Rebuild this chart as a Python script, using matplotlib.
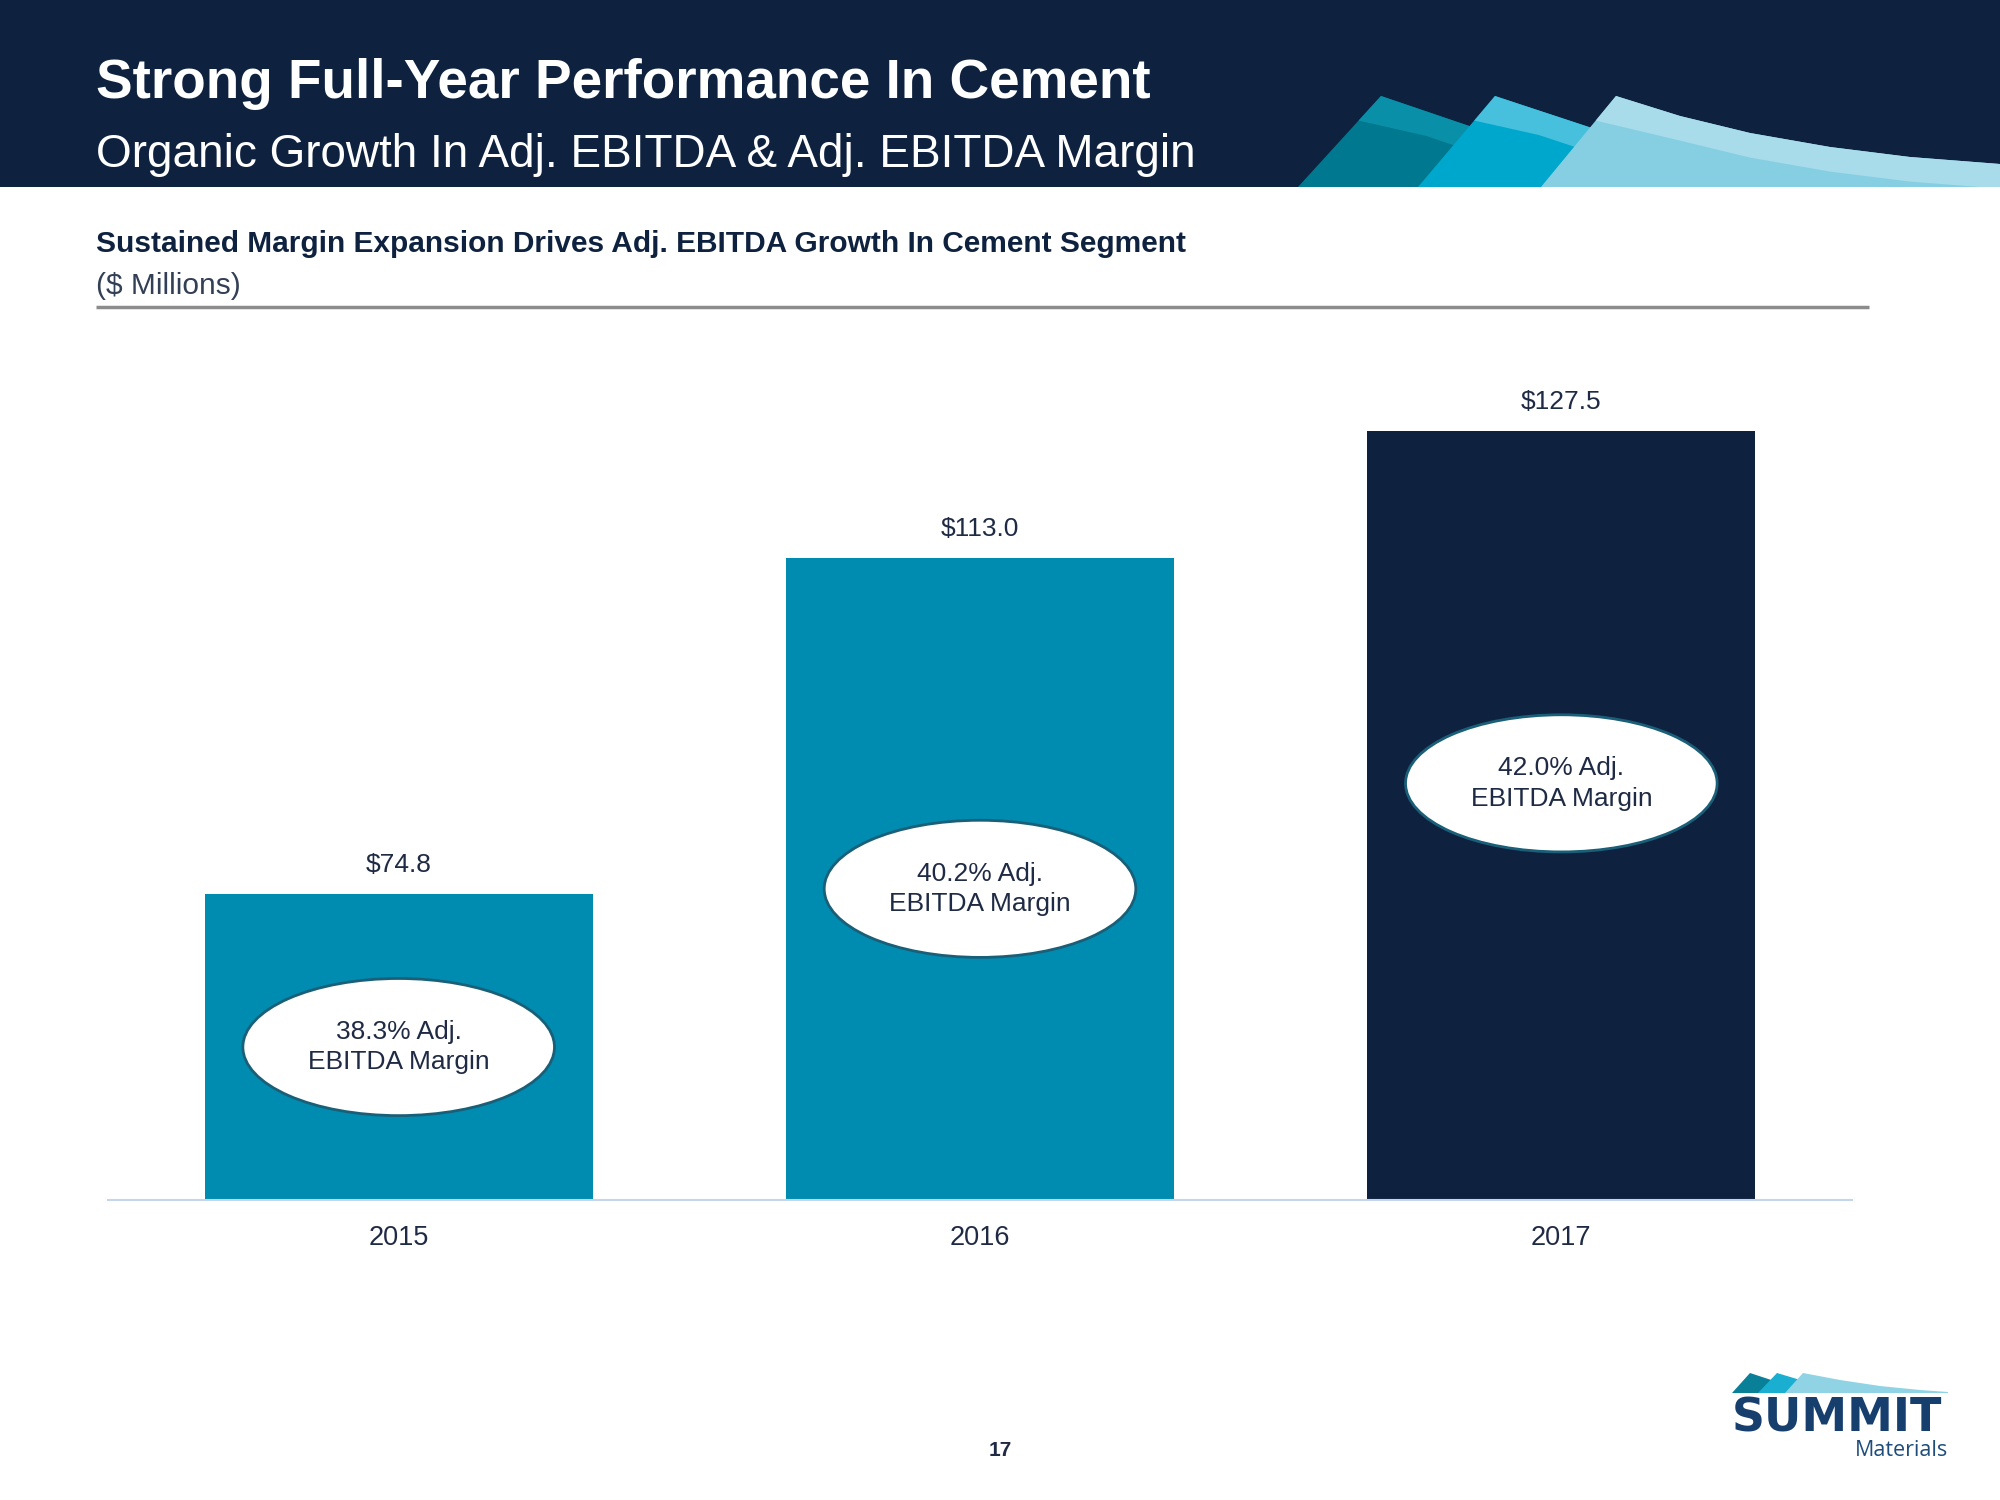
import matplotlib
matplotlib.use("Agg")
import matplotlib.pyplot as plt
from matplotlib.patches import Polygon, Ellipse, Rectangle
import numpy as np

# ---- data ----
years = ["2015", "2016", "2017"]
ebitda = [74.8, 113.0, 127.5]
margins = ["38.3%", "40.2%", "42.0%"]
bar_colors = ["#008BB0", "#008BB0", "#0E2240"]
ellipse_y = [57.4, 75.4, 87.4]  # vertical placement of margin bubbles (data units)

plt.rcParams['font.family'] = ["Liberation Sans", "DejaVu Sans"]

NAVY = "#0E2240"
TEXT = "#1F2A44"

fig = plt.figure(figsize=(20, 15), dpi=100)

# ---- decoration layer in pixel coords ----
deco = fig.add_axes([0, 0, 1, 1], zorder=0)
deco.set_xlim(0, 2000)
deco.set_ylim(1500, 0)
deco.axis("off")

header = Rectangle((0, 0), 2000, 187, color=NAVY, lw=0)
deco.add_patch(header)

def swoosh(ax, bl, apex, top_pts, band_left_frac, c_main, c_band, clip):
    bottom_y = bl[1]
    pts = [bl, apex] + top_pts + [(top_pts[-1][0], bottom_y + 60)]
    p = Polygon(pts, closed=True, color=c_main, lw=0)
    ax.add_patch(p)
    p.set_clip_path(clip)
    if band_left_frac > 0:
        lx = apex[0] + (bl[0] - apex[0]) * band_left_frac
        ly = apex[1] + (bl[1] - apex[1]) * band_left_frac
        dy = ly - apex[1]
        band_lower = [(x, y + dy) for (x, y) in top_pts]
        band = [apex] + top_pts + band_lower[::-1] + [(lx, ly)]
        b = Polygon(band, closed=True, color=c_band, lw=0)
        ax.add_patch(b)
        b.set_clip_path(clip)

def line_pts(apex, slope, x_end):
    xs = np.linspace(apex[0], x_end, 8)[1:]
    return [(x, apex[1] + slope * (x - apex[0])) for x in xs]

# header swooshes
swoosh(deco, (1298, 187), (1381, 96), line_pts((1381, 96), 0.34, 1700), 0.27,
       "#00788F", "#0A8FA8", header)
swoosh(deco, (1418, 187), (1495, 96), line_pts((1495, 96), 0.33, 1800), 0.27,
       "#00A7CC", "#46C0DC", header)
c_apex = (1616, 96)
c_top = [(1680, 116), (1750, 133), (1830, 147), (1910, 157), (2000, 164)]
swoosh(deco, (1541, 187), c_apex, c_top, 0.27, "#86CFE2", "#A8DCEA", header)

# titles
deco.text(96, 84, "Strong Full-Year Performance In Cement", color="white",
          fontsize=39.5, fontweight="bold", va="center", ha="left")
deco.text(96, 155, "Organic Growth In Adj. EBITDA & Adj. EBITDA Margin", color="white",
          fontsize=33, va="center", ha="left")
deco.text(96, 244, "Sustained Margin Expansion Drives Adj. EBITDA Growth In Cement Segment",
          color=NAVY, fontsize=21.5, fontweight="bold", va="center", ha="left")
deco.text(96, 286, "($ Millions)", color="#333F55", fontsize=21.5, va="center", ha="left")
deco.plot([96, 1869], [307, 307], color="#8C8C8C", lw=2.5, solid_capstyle="butt")

# page number
deco.text(1000, 1450, "17", color=TEXT, fontsize=15, fontweight="bold",
          ha="center", va="center")

# logo
logo_clip = Rectangle((1700, 1360), 300, 33, transform=deco.transData)
lb = 1393
swoosh(deco, (1732, lb), (1750, 1373), line_pts((1750, 1373), 0.33, 1790), 0.0,
       "#0A7F98", "#0A7F98", logo_clip)
swoosh(deco, (1758, lb), (1777, 1373), line_pts((1777, 1373), 0.30, 1830), 0.0,
       "#1AAFD0", "#1AAFD0", logo_clip)
swoosh(deco, (1785, lb), (1803, 1373),
       [(1840, 1380), (1880, 1386), (1920, 1390), (1948, 1392)], 0.0,
       "#8FD3E5", "#8FD3E5", logo_clip)
deco.text(1732, 1419, "SUMMIT", color="#163F6E", fontsize=33, fontweight="bold",
          ha="left", va="center", family=["DejaVu Sans"])
deco.text(1948, 1450, "Materials", color="#1E4D7B", fontsize=15.5,
          ha="right", va="center", family=["Open Sans", "DejaVu Sans"])

# ---- chart ----
ax = fig.add_axes([0.054, 0.2, 0.872, 0.586], zorder=1)
ax.patch.set_alpha(0)
x = np.arange(len(years))
ax.bar(x, ebitda, width=0.667, color=bar_colors, zorder=2)
ax.set_xlim(-0.5, 2.5)
ax.set_ylim(40, 140)
for s in ["top", "right", "left"]:
    ax.spines[s].set_visible(False)
ax.spines["bottom"].set_color("#C6D6EA")
ax.spines["bottom"].set_linewidth(1.5)
ax.set_yticks([])
ax.set_xticks(x)
ax.set_xticklabels(years, fontsize=19.5, color=TEXT)
ax.tick_params(axis="x", length=0, pad=18)

for xi, v in zip(x, ebitda):
    ax.annotate(f"${v:.1f}", (xi, v), xytext=(0, 21), textcoords="offset points",
                ha="center", va="center", fontsize=19, color=TEXT)

for xi, ey, m in zip(x, ellipse_y, margins):
    ax.add_patch(Ellipse((xi, ey), width=0.536, height=15.6, facecolor="white",
                         edgecolor="#1A5F78", lw=2, zorder=3))
    ax.text(xi, ey, f"{m} Adj.\nEBITDA Margin", ha="center", va="center",
            fontsize=19, color=TEXT, linespacing=1.35, zorder=4)

fig.savefig("out.png", dpi=100)
